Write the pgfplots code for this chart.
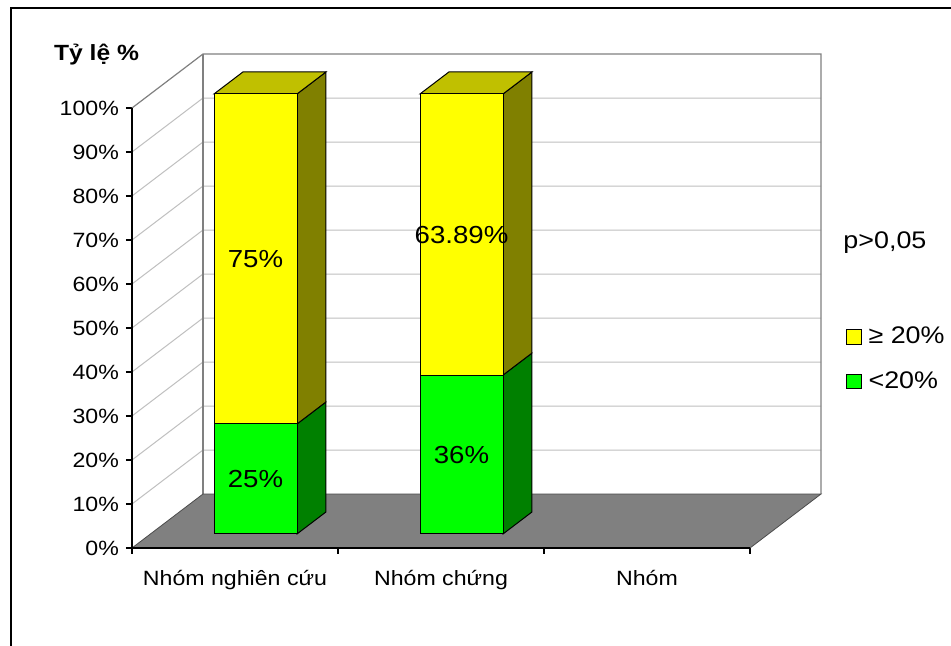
\documentclass[border=0pt]{standalone}
\usepackage{pgfplots}
\pgfplotsset{compat=1.18}
\usepackage{fontspec}
\setmainfont{Liberation Sans}[FakeStretch=1.12]
\definecolor{gridgray}{RGB}{192,192,192}
\definecolor{wallgray}{RGB}{128,128,128}
\definecolor{floorgray}{RGB}{128,128,128}
\definecolor{ylw}{RGB}{255,255,0}
\definecolor{ylwtop}{RGB}{192,192,0}
\definecolor{ylwside}{RGB}{128,128,0}
\definecolor{grn}{RGB}{0,255,0}
\definecolor{grnside}{RGB}{0,128,0}
\pgfplotsset{base/.style={at={(99pt,73.5pt)}, anchor=south west, x=154.5pt, y=3.3pt,
  xmin=0, xmax=3.3447, ymin=0, ymax=112.27, clip=false}}
\begin{document}
\fontsize{15.5pt}{18pt}\selectfont
\begin{tikzpicture}
\useasboundingbox (0,0) rectangle (713.25pt,484.5pt);
\fill[white] (0,0) rectangle (713.25pt,484.5pt);
\draw[black, line width=1.5pt] (8.25pt,-2pt) -- (8.25pt,478.5pt) -- (716pt,478.5pt);
\node[font=\bfseries\fontsize{16.5pt}{19pt}\selectfont, anchor=base] at (72.4pt,438.75pt) {Tỷ lệ \%};
\begin{axis}[base,
  axis x line*=bottom, axis y line*=left,
  axis line style={draw=none},
  tick align=outside, major tick length=4.5pt,
  tick style={black, line width=0.9pt},
  xtick={0,1,2,3}, xticklabels={,,,},
  extra x ticks={0.5,1.5,2.5},
  extra x tick labels={Nhóm nghiên cứu, Nhóm chứng, Nhóm},
  extra x tick style={major tick length=0pt, tick label style={yshift=-11pt}},
  ytick={0,10,20,30,40,50,60,70,80,90,100},
  yticklabels={0\%,10\%,20\%,30\%,40\%,50\%,60\%,70\%,80\%,90\%,100\%},
  legend style={at={(axis cs:3.466,50.9)}, anchor=north west, draw=none, fill=none,
    inner sep=0pt, row sep=14.5pt, nodes={inner sep=2pt},
    font=\fontsize{18pt}{20pt}\selectfont},
  legend cell align=left,
  legend image code/.code={\draw[#1, line width=0.75pt] (0pt,-5.5pt) rectangle (11pt,5.5pt);},
]
\addlegendimage{fill=ylw, draw=black}
\addlegendentry{\,≥ 20\%}
\addlegendimage{fill=grn, draw=black}
\addlegendentry{\,<20\%}
% back wall gridlines and left wall diagonals
\addplot[gridgray, line width=0.75pt] coordinates {(0,10)(0.3447,22.27)(3.3447,22.27)};
\addplot[gridgray, line width=0.75pt] coordinates {(0,20)(0.3447,32.27)(3.3447,32.27)};
\addplot[gridgray, line width=0.75pt] coordinates {(0,30)(0.3447,42.27)(3.3447,42.27)};
\addplot[gridgray, line width=0.75pt] coordinates {(0,40)(0.3447,52.27)(3.3447,52.27)};
\addplot[gridgray, line width=0.75pt] coordinates {(0,50)(0.3447,62.27)(3.3447,62.27)};
\addplot[gridgray, line width=0.75pt] coordinates {(0,60)(0.3447,72.27)(3.3447,72.27)};
\addplot[gridgray, line width=0.75pt] coordinates {(0,70)(0.3447,82.27)(3.3447,82.27)};
\addplot[gridgray, line width=0.75pt] coordinates {(0,80)(0.3447,92.27)(3.3447,92.27)};
\addplot[gridgray, line width=0.75pt] coordinates {(0,90)(0.3447,102.27)(3.3447,102.27)};
\addplot[wallgray, line width=0.9pt] coordinates {(0,100)(0.3447,112.27)(3.3447,112.27)(3.3447,12.27)};
\addplot[wallgray, line width=0.9pt] coordinates {(0.3447,12.27)(0.3447,112.27)};
% floor
\addplot[fill=floorgray, draw=black!70, line width=0.6pt] coordinates {(0,0)(3,0)(3.3447,12.27)(0.3447,12.27)} -- cycle;
% axis lines
\addplot[black, line width=1pt] coordinates {(0,100)(0,0)(3,0)};
% side and top faces of the bars
\addplot[fill=grnside, draw=black, line width=0.75pt] coordinates {(0.8011,3.19)(0.9414,8.184)(0.9414,33.184)(0.8011,28.19)} -- cycle;
\addplot[fill=ylwside, draw=black, line width=0.75pt] coordinates {(0.8011,28.19)(0.9414,33.184)(0.9414,108.184)(0.8011,103.19)} -- cycle;
\addplot[fill=ylwtop, draw=black, line width=0.75pt] coordinates {(0.3981,103.19)(0.8011,103.19)(0.9414,108.184)(0.5384,108.184)} -- cycle;
\addplot[fill=grnside, draw=black, line width=0.75pt] coordinates {(1.8011,3.19)(1.9414,8.184)(1.9414,44.294)(1.8011,39.30)} -- cycle;
\addplot[fill=ylwside, draw=black, line width=0.75pt] coordinates {(1.8011,39.30)(1.9414,44.294)(1.9414,108.184)(1.8011,103.19)} -- cycle;
\addplot[fill=ylwtop, draw=black, line width=0.75pt] coordinates {(1.3981,103.19)(1.8011,103.19)(1.9414,108.184)(1.5384,108.184)} -- cycle;
\node[font=\fontsize{18pt}{20pt}\selectfont] at (axis cs:3.655,69.3) {p>0,05};
\end{axis}
\begin{axis}[base, hide axis, ybar stacked, bar width=0.403, bar shift=0.0996]
\addplot[draw=none, fill=none] coordinates {(0.5,3.19)(1.5,3.19)};
\addplot[fill=grn, draw=black, line width=0.75pt] coordinates {(0.5,25)(1.5,36.11)};
\addplot[fill=ylw, draw=black, line width=0.75pt] coordinates {(0.5,75)(1.5,63.89)};
\end{axis}
\begin{axis}[base, hide axis]
\addplot[draw=none] coordinates {(0,0)};
\node[font=\fontsize{18.5pt}{20pt}\selectfont] at (axis cs:0.5996,65.69) {75\%};
\node[font=\fontsize{18.5pt}{20pt}\selectfont] at (axis cs:0.5996,15.69) {25\%};
\node[font=\fontsize{18.5pt}{20pt}\selectfont] at (axis cs:1.5996,71.245) {63.89\%};
\node[font=\fontsize{18.5pt}{20pt}\selectfont] at (axis cs:1.5996,21.245) {36\%};
\end{axis}
\end{tikzpicture}
\end{document}
